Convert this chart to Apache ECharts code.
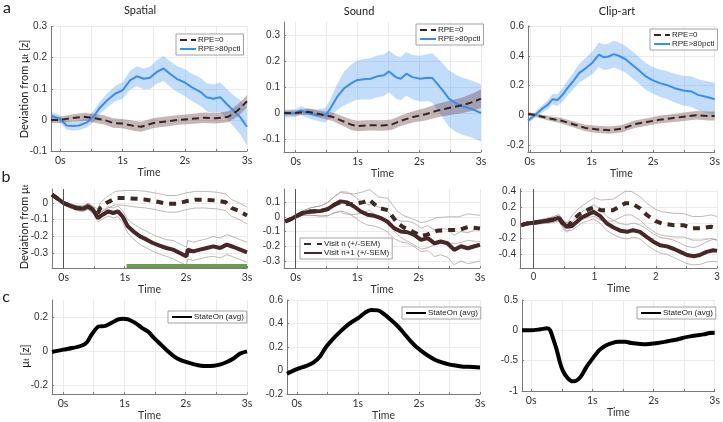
<!DOCTYPE html>
<html><head><meta charset="utf-8">
<script src="https://cdn.jsdelivr.net/npm/echarts@6/dist/echarts.min.js"></script>
<style>html,body{margin:0;padding:0;background:#fff}#c{width:723px;height:422px}</style>
</head><body><div id="c"></div>
<script>
// ---------------- DATA ----------------
// Panel a1 (Spatial)
const a1BlueT = [-0.15,0,0.1,0.2,0.3,0.43,0.53,0.64,0.75,0.88,1.0,1.12,1.23,1.34,1.44,1.55,1.66,1.76,1.87,2.0,2.11,2.25,2.35,2.46,2.57,2.67,2.78,2.89,3.0];
const a1BlueY = [0.014,0.003,-0.018,-0.02,-0.018,-0.008,0.01,0.04,0.062,0.084,0.095,0.127,0.14,0.132,0.135,0.154,0.165,0.148,0.132,0.12,0.105,0.09,0.073,0.068,0.073,0.052,0.03,0.009,-0.022];
const a1BlueSem = [0.012,0.012,0.013,0.014,0.015,0.016,0.018,0.02,0.022,0.025,0.027,0.03,0.032,0.034,0.036,0.038,0.04,0.041,0.042,0.043,0.044,0.045,0.045,0.046,0.047,0.048,0.05,0.055,0.06];
const a1DashT = [-0.15,0,0.2,0.4,0.55,0.7,0.85,1.0,1.2,1.3,1.5,1.7,1.9,2.1,2.3,2.5,2.7,2.85,3.0];
const a1DashY = [0.0,0.0,0.006,0.01,0.005,0.0,-0.01,-0.012,-0.02,-0.022,-0.01,-0.005,0.0,0.003,0.007,0.005,0.01,0.03,0.06];
const a1DashSem = [0.01,0.01,0.012,0.013,0.014,0.015,0.015,0.015,0.016,0.016,0.016,0.016,0.016,0.016,0.017,0.017,0.018,0.019,0.02];
// Panel a2 (Sound)
const a2BlueT = [-0.19,0,0.08,0.18,0.35,0.48,0.56,0.67,0.78,0.89,0.99,1.1,1.21,1.32,1.43,1.51,1.62,1.7,1.79,1.89,2.02,2.13,2.21,2.29,2.4,2.48,2.59,2.7,2.83,2.94,3.0];
const a2BlueY = [-0.003,0,0.01,0,-0.009,-0.009,0.017,0.062,0.094,0.113,0.126,0.13,0.132,0.141,0.145,0.16,0.138,0.132,0.151,0.138,0.132,0.136,0.135,0.113,0.081,0.055,0.038,0.026,0.017,0.006,0.0];
const a2BlueSem = [0.015,0.015,0.016,0.018,0.022,0.028,0.035,0.05,0.065,0.072,0.075,0.078,0.08,0.08,0.08,0.08,0.082,0.083,0.084,0.085,0.088,0.09,0.095,0.1,0.105,0.108,0.11,0.11,0.11,0.11,0.11];
const a2DashT = [-0.19,0,0.2,0.4,0.6,0.75,0.9,1.0,1.2,1.4,1.55,1.7,1.9,2.1,2.3,2.5,2.7,2.9,3.0];
const a2DashY = [0,0,0.005,-0.005,-0.015,-0.03,-0.045,-0.05,-0.047,-0.048,-0.045,-0.03,-0.015,-0.005,0.01,0.02,0.03,0.045,0.055];
const a2DashSem = [0.01,0.01,0.012,0.014,0.016,0.018,0.02,0.02,0.02,0.02,0.02,0.02,0.022,0.024,0.026,0.028,0.03,0.034,0.036];
// Panel a3 (Clip-art)
const a3BlueT = [-0.03,0.05,0.13,0.21,0.29,0.37,0.45,0.53,0.61,0.7,0.8,0.91,1.02,1.12,1.2,1.28,1.36,1.44,1.55,1.66,1.76,1.87,1.98,2.11,2.22,2.35,2.49,2.62,2.73,2.89,3.0];
const a3BlueY = [-0.036,-0.01,0.018,0.047,0.07,0.108,0.103,0.137,0.182,0.227,0.283,0.317,0.355,0.407,0.39,0.395,0.411,0.4,0.378,0.34,0.306,0.265,0.238,0.216,0.204,0.182,0.166,0.16,0.137,0.121,0.108];
const a3BlueSem = [0.015,0.018,0.022,0.026,0.03,0.035,0.04,0.045,0.05,0.056,0.062,0.07,0.076,0.082,0.085,0.088,0.09,0.09,0.09,0.09,0.09,0.09,0.09,0.092,0.094,0.097,0.1,0.102,0.105,0.108,0.11];
const a3DashT = [-0.03,0.1,0.3,0.5,0.7,0.9,1.1,1.3,1.5,1.7,1.9,2.1,2.3,2.5,2.7,2.9,3.0];
const a3DashY = [0.01,0,-0.02,-0.035,-0.06,-0.085,-0.095,-0.1,-0.09,-0.06,-0.045,-0.03,-0.02,-0.01,0,-0.005,-0.005];
const a3DashSem = [0.01,0.012,0.015,0.018,0.02,0.022,0.024,0.025,0.025,0.025,0.025,0.026,0.027,0.028,0.029,0.03,0.03];
// Panel b1 (Spatial)
const b1SolidT = [-0.19,-0.09,0,0.1,0.21,0.32,0.4,0.48,0.56,0.64,0.73,0.81,0.89,0.97,1.05,1.14,1.25,1.36,1.46,1.57,1.68,1.79,1.9,2.01,2.03,2.12,2.23,2.34,2.45,2.56,2.67,2.78,2.89,3.0];
const b1SolidY = [0.05,0.024,0,-0.016,-0.03,-0.034,-0.02,-0.04,-0.09,-0.07,-0.05,-0.06,-0.05,-0.084,-0.14,-0.17,-0.2,-0.22,-0.24,-0.256,-0.27,-0.28,-0.3,-0.32,-0.28,-0.29,-0.28,-0.27,-0.26,-0.27,-0.25,-0.264,-0.28,-0.296];
const b1SolidSem = [0.01,0.01,0.01,0.012,0.014,0.016,0.018,0.02,0.022,0.025,0.028,0.03,0.032,0.035,0.04,0.045,0.05,0.05,0.05,0.05,0.05,0.055,0.055,0.055,0.055,0.055,0.055,0.055,0.06,0.06,0.06,0.06,0.06,0.06];
const b1DashT = [-0.19,-0.09,0,0.1,0.21,0.32,0.4,0.48,0.56,0.6,0.7,0.85,1.0,1.2,1.35,1.5,1.7,1.85,2.0,2.15,2.3,2.5,2.65,2.75,2.85,3.0];
const b1DashY = [0.05,0.024,0,-0.016,-0.03,-0.034,-0.02,-0.04,-0.06,-0.03,0,0.03,0.03,0.025,0.02,0.01,-0.005,-0.005,0.01,0.02,0.02,0.015,0.005,-0.03,-0.045,-0.075];
const b1DashSem = [0.01,0.01,0.01,0.012,0.014,0.016,0.018,0.02,0.025,0.03,0.035,0.04,0.045,0.05,0.05,0.05,0.05,0.05,0.05,0.05,0.05,0.05,0.05,0.05,0.05,0.05];
const b1SigT = [1.03, 3.0];
const b1SigY = [-0.378, -0.378];
// Panel b2 (Sound)
const b2SolidT = [-0.17,-0.08,0,0.11,0.24,0.41,0.52,0.63,0.73,0.84,0.95,1.06,1.17,1.28,1.39,1.49,1.6,1.71,1.82,1.93,2.04,2.15,2.26,2.36,2.47,2.58,2.69,2.8,2.91,3.0];
const b2SolidY = [-0.032,-0.016,0.002,0.025,0.036,0.04,0.052,0.082,0.105,0.098,0.07,0.036,0.014,0.007,-0.009,-0.032,-0.077,-0.1,-0.105,-0.123,-0.157,-0.145,-0.18,-0.168,-0.18,-0.225,-0.2,-0.214,-0.2,-0.19];
const b2SolidSem = [0.01,0.01,0.01,0.015,0.025,0.035,0.045,0.055,0.065,0.07,0.07,0.07,0.07,0.07,0.07,0.07,0.07,0.07,0.075,0.08,0.08,0.085,0.09,0.09,0.095,0.1,0.1,0.105,0.11,0.11];
const b2DashT = [-0.17,-0.08,0,0.11,0.24,0.41,0.52,0.63,0.73,0.8,0.95,1.1,1.2,1.35,1.5,1.65,1.75,1.9,2.05,2.15,2.3,2.5,2.65,2.8,3.0];
const b2DashY = [-0.032,-0.016,0.002,0.025,0.036,0.04,0.052,0.082,0.1,0.09,0.085,0.1,0.115,0.06,0.045,-0.04,-0.07,-0.1,-0.13,-0.12,-0.095,-0.09,-0.09,-0.07,-0.08];
const b2DashSem = [0.01,0.01,0.01,0.015,0.025,0.035,0.045,0.055,0.065,0.07,0.07,0.07,0.07,0.075,0.08,0.08,0.08,0.085,0.09,0.09,0.09,0.09,0.09,0.09,0.09];
// Panel b3 (Clip-art)
const b3SolidT = [-0.2,-0.11,0,0.11,0.22,0.33,0.41,0.46,0.54,0.63,0.71,0.79,0.87,0.98,1.09,1.2,1.31,1.42,1.53,1.63,1.74,1.85,1.96,2.07,2.18,2.29,2.4,2.51,2.62,2.72,2.83,2.94,3.0];
const b3SolidY = [-0.03,-0.01,0,0.013,0.026,0.043,0.064,0.013,-0.05,-0.04,0.013,0.068,0.098,0.14,0.085,-0.009,-0.06,-0.1,-0.115,-0.094,-0.115,-0.18,-0.24,-0.285,-0.3,-0.33,-0.37,-0.41,-0.425,-0.41,-0.37,-0.35,-0.357];
const b3SolidSem = [0.02,0.02,0.02,0.025,0.03,0.035,0.04,0.045,0.05,0.055,0.06,0.07,0.08,0.09,0.09,0.09,0.09,0.09,0.09,0.09,0.09,0.1,0.1,0.1,0.1,0.11,0.11,0.11,0.11,0.12,0.13,0.14,0.14];
const b3DashT = [-0.2,-0.11,0,0.11,0.22,0.33,0.42,0.5,0.55,0.65,0.75,0.9,1.0,1.1,1.3,1.5,1.6,1.75,1.85,2.0,2.1,2.3,2.45,2.6,2.75,2.9,3.0];
const b3DashY = [-0.03,-0.01,0,0.013,0.026,0.043,0.065,-0.04,-0.06,0.04,0.11,0.17,0.2,0.16,0.16,0.25,0.25,0.18,0.1,0.02,-0.01,-0.03,-0.03,-0.07,-0.07,-0.05,-0.07];
const b3DashSem = [0.02,0.02,0.02,0.025,0.03,0.035,0.04,0.05,0.06,0.07,0.08,0.1,0.12,0.13,0.14,0.15,0.15,0.15,0.15,0.15,0.15,0.15,0.15,0.15,0.15,0.15,0.15];
// Panel c
const c1T = [-0.18,0,0.15,0.31,0.39,0.47,0.58,0.69,0.8,0.9,0.98,1.06,1.17,1.28,1.39,1.49,1.6,1.71,1.82,1.92,2.03,2.14,2.25,2.35,2.46,2.57,2.68,2.78,2.89,3.0];
const c1Y = [-0.004,0.01,0.019,0.034,0.053,0.1,0.145,0.149,0.168,0.187,0.19,0.187,0.168,0.139,0.114,0.076,0.038,0,-0.032,-0.051,-0.065,-0.076,-0.084,-0.086,-0.084,-0.076,-0.061,-0.042,-0.013,0.0];
const c2T = [-0.16,0,0.16,0.27,0.38,0.48,0.59,0.69,0.8,0.9,1.01,1.12,1.22,1.33,1.43,1.54,1.65,1.75,1.86,1.96,2.07,2.17,2.28,2.39,2.49,2.6,2.7,2.81,3.0];
const c2Y = [-0.027,0.013,0.04,0.067,0.12,0.2,0.267,0.32,0.373,0.413,0.448,0.493,0.515,0.512,0.48,0.432,0.379,0.32,0.253,0.2,0.155,0.12,0.088,0.067,0.053,0.043,0.035,0.032,0.027];
const c3T = [-0.15,0,0.15,0.26,0.31,0.36,0.42,0.47,0.52,0.6,0.68,0.74,0.82,0.9,1.0,1.11,1.22,1.32,1.43,1.54,1.64,1.75,1.86,1.96,2.07,2.18,2.28,2.39,2.5,2.6,2.71,2.82,2.92,3.0];
const c3Y = [0,0,0.017,0.033,0,-0.14,-0.33,-0.53,-0.67,-0.79,-0.84,-0.83,-0.75,-0.61,-0.47,-0.33,-0.25,-0.21,-0.19,-0.19,-0.21,-0.22,-0.23,-0.22,-0.21,-0.19,-0.17,-0.15,-0.12,-0.1,-0.083,-0.067,-0.044,-0.04];

// tick labels
const xTickVals = [0,0.5,1,1.5,2,2.5,3];
const xLabelVals = [0,1,2,3];
const yTicksA = [[-0.1,0,0.1,0.2,0.3],[-0.1,0,0.1,0.2,0.3],[-0.2,0,0.2,0.4,0.6]];
const yTicksB = [[-0.3,-0.2,-0.1,0],[-0.3,-0.2,-0.1,0,0.1],[-0.4,-0.2,0,0.2,0.4]];
const yTicksC = [[-0.2,0,0.2],[-0.2,0,0.2,0.4,0.6],[-1,-0.5,0,0.5]];
const titles = ['Spatial','Sound','Clip-art'];
const NAME_RPE0 = 'RPE=0', NAME_RPE80 = 'RPE>80pctl';
const NAME_VN = 'Visit n (+/-SEM)', NAME_VN1 = 'Visit n+1 (+/-SEM)';
const NAME_SO = 'StateOn (avg)';

// ---------------- LAYOUT / STYLE ----------------
const FNUM = '"Liberation Sans Narrow","Arial Narrow","Liberation Sans",sans-serif';
const FTXT = 'Lato,"Open Sans",sans-serif';
const AX = '#7a7a7a', GRIDC = '#ebebeb', LAB = '#303030';
const BLUE = '#3a8ded', BLUEBAND = 'rgba(70,150,245,0.33)';
const BROWN = '#3b2224', BROWNBAND = 'rgba(110,75,70,0.40)';
const THICK = '#4a2626', ENV = '#a89898';

const panels = [
  {L:51,T:26.5,R:247,B:151,xmin:-0.15,xmax:3,ymin:-0.1,ymax:0.3,yt:yTicksA[0],sfx:true,time:true,ng:13},
  {L:284,T:22,R:481,B:152,xmin:-0.19,xmax:3,ymin:-0.15,ymax:0.35,yt:yTicksA[1],sfx:true,time:true,ng:12},
  {L:528,T:26,R:717,B:152,xmin:-0.03,xmax:3,ymin:-0.247,ymax:0.6,yt:yTicksA[2],sfx:true,time:true,ng:12},
  {L:52,T:189,R:247,B:268,xmin:-0.19,xmax:3,ymin:-0.39,ymax:0.084,yt:yTicksB[0],sfx:true,time:true,ng:11},
  {L:284,T:189,R:480,B:268,xmin:-0.19,xmax:3,ymin:-0.348,ymax:0.189,yt:yTicksB[1],sfx:true,time:true,ng:11},
  {L:520,T:189,R:717,B:268,xmin:-0.22,xmax:3,ymin:-0.575,ymax:0.43,yt:yTicksB[2],sfx:false,time:true,ng:12},
  {L:52,T:300,R:247,B:396,xmin:-0.18,xmax:3,ymin:-0.25,ymax:0.3,yt:yTicksC[0],sfx:true,time:true,ng:9},
  {L:287,T:300,R:480,B:397,xmin:-0.16,xmax:3,ymin:-0.2,ymax:0.6,yt:yTicksC[1],sfx:true,time:true,ng:8},
  {L:522,T:300,R:715,B:391,xmin:-0.15,xmax:3,ymin:-1,ymax:0.5,yt:yTicksC[2],sfx:true,time:true,ng:9}
];

const grid = [], xAxis = [], yAxis = [], series = [];
const fmtNum = v => String(+(+v).toFixed(2));
panels.forEach((p, i) => {
  grid.push({left:p.L, top:p.T, width:p.R-p.L, height:p.B-p.T});
  xAxis.push({
    gridIndex:i, type:'value', min:p.xmin, max:p.xmax,
    axisLine:{show:true, onZero:false, lineStyle:{color:AX, width:1}},
    axisTick:{show:true, inside:true, length:2, customValues:xTickVals, lineStyle:{color:AX}},
    axisLabel:{customValues:xLabelVals, margin:4,
      formatter: v => p.sfx ? (fmtNum(v)+'s') : fmtNum(v),
      fontFamily: p.sfx ? FTXT : FNUM, fontSize: p.sfx ? 10.5 : 10, color: LAB},
    splitLine:{show:true, lineStyle:{color:GRIDC, width:1}},
    name: p.time ? 'Time' : '', nameLocation:'middle', nameGap:p.ng,
    nameTextStyle:{fontFamily:FTXT, fontSize:10.5, color:LAB}
  });
  yAxis.push({
    gridIndex:i, type:'value', min:p.ymin, max:p.ymax,
    axisLine:{show:true, onZero:false, lineStyle:{color:AX, width:1}},
    axisTick:{show:true, inside:true, length:2, customValues:p.yt, lineStyle:{color:AX}},
    axisLabel:{customValues:p.yt, margin:4, formatter: fmtNum, fontFamily:FNUM, fontSize:10, color:LAB},
    splitLine:{show:true, lineStyle:{color:GRIDC, width:1}}
  });
});

function zip(T, Y){ const n=Math.min(T.length,Y.length); const o=[]; for(let k=0;k<n;k++) o.push([T[k],Y[k]]); return o; }
function shifted(T, Y, S, sign){ const n=Math.min(T.length,Y.length,S.length); const o=[]; for(let k=0;k<n;k++) o.push([T[k],Y[k]+sign*S[k]]); return o; }
function band(gi, T, Y, S, color){
  const up = shifted(T,Y,S,1), lo = shifted(T,Y,S,-1);
  return {type:'custom', xAxisIndex:gi, yAxisIndex:gi, silent:true, clip:true, z:1,
    data:[[T[0],Y[0]]],
    renderItem: function(params, api){
      const pts = [];
      up.forEach(d => pts.push(api.coord(d)));
      for (let k=lo.length-1;k>=0;k--) pts.push(api.coord(lo[k]));
      return {type:'polygon', shape:{points:pts}, style:{fill:color}};
    }};
}
function line(gi, data, name, ls, extra){
  return Object.assign({type:'line', xAxisIndex:gi, yAxisIndex:gi, name:name, data:data,
    symbol:'none', showSymbol:false, clip:true, silent:true, z:3, lineStyle:ls, itemStyle:{color:ls.color}}, extra||{});
}

// panel a
const aSets = [
  [a1BlueT,a1BlueY,a1BlueSem,a1DashT,a1DashY,a1DashSem],
  [a2BlueT,a2BlueY,a2BlueSem,a2DashT,a2DashY,a2DashSem],
  [a3BlueT,a3BlueY,a3BlueSem,a3DashT,a3DashY,a3DashSem]
];
aSets.forEach((s, i) => {
  series.push(band(i, s[0], s[1], s[2], BLUEBAND));
  series.push(band(i, s[3], s[4], s[5], BROWNBAND));
  series.push(line(i, zip(s[0], s[1]), NAME_RPE80, {color:BLUE, width:2}));
  series.push(line(i, zip(s[3], s[4]), NAME_RPE0, {color:BROWN, width:2, type:[7,4]}));
});

// panel b
const bSets = [
  [b1SolidT,b1SolidY,b1SolidSem,b1DashT,b1DashY,b1DashSem],
  [b2SolidT,b2SolidY,b2SolidSem,b2DashT,b2DashY,b2DashSem],
  [b3SolidT,b3SolidY,b3SolidSem,b3DashT,b3DashY,b3DashSem]
];
bSets.forEach((s, j) => {
  const gi = 3 + j;
  [[s[0],s[1],s[2]],[s[3],s[4],s[5]]].forEach(q => {
    series.push(line(gi, shifted(q[0],q[1],q[2],1), undefined, {color:ENV, width:0.7}, {z:2}));
    series.push(line(gi, shifted(q[0],q[1],q[2],-1), undefined, {color:ENV, width:0.7}, {z:2}));
  });
  series.push(line(gi, zip(s[0], s[1]), NAME_VN1, {color:THICK, width:4},
    {markLine:{silent:true, symbol:'none', label:{show:false}, lineStyle:{color:'#555', width:1, type:'solid'}, data:[{xAxis:0}], animation:false}}));
  series.push(line(gi, zip(s[3], s[4]), NAME_VN, {color:'#3e2a22', width:4, type:[7,6]}));
});
series.push(line(3, zip(b1SigT, b1SigY), undefined, {color:'#6d9a52', width:4}));

// panel c
[[c1T,c1Y],[c2T,c2Y],[c3T,c3Y]].forEach((s, j) => {
  series.push(line(6 + j, zip(s[0], s[1]), NAME_SO, {color:'#000', width:4}, {smooth:0.3}));
});

function legend(names, left, top, iw, fs){
  return {data:names, left:left, top:top, orient:'vertical', selectedMode:false,
    padding:[2,3,2,3], itemGap:1, itemWidth:iw||16, itemHeight:9,
    itemStyle:{color:'rgba(0,0,0,0)', borderColor:'rgba(0,0,0,0)', borderWidth:0},
    backgroundColor:'#fff', borderColor:'#8a8a8a', borderWidth:0.8,
    textStyle:{fontFamily:FNUM, fontSize:fs||8, color:'#222', padding:[0,0,0,-3]}};
}
const legends = [
  legend([NAME_RPE0, NAME_RPE80], 176, 34),
  legend([NAME_RPE0, NAME_RPE80], 416, 24),
  legend([NAME_RPE0, NAME_RPE80], 650, 29),
  legend([NAME_VN, NAME_VN1], 300, 238, 18),
  legend([NAME_SO], 168, 311, 20),
  legend([NAME_SO], 402, 307, 20),
  legend([NAME_SO], 637, 307, 20)
];

function txt(x, y, text, size, rot, rich){
  return {type:'text', x:x, y:y, rotation:rot||0, silent:true,
    style:{text:text, fill:'#222', font: size+'px '+FTXT, align:'center', verticalAlign:'middle', rich:rich}};
}
const subRich = {s:{fontSize:7.5, fontFamily:'Lato', fill:'#222', verticalAlign:'bottom', padding:[4,0,0,0]}};
const graphic = [
  txt(7, 8, 'a', 16), txt(6, 177, 'b', 16), txt(6, 297, 'c', 16),
  txt(140, 10.5, titles[0], 11), txt(359, 11, titles[1], 11), txt(617, 11, titles[2], 11),
  txt(24, 89, 'Deviation from μ{s|t} [z]', 11, Math.PI/2, subRich),
  txt(24, 227, 'Deviation from μ{s|t}', 11, Math.PI/2, subRich),
  txt(25, 356, 'μ{s|t} [z]', 11, Math.PI/2, subRich)
];

const chart = echarts.init(document.getElementById('c'), null, {renderer:'canvas'});
chart.setOption({animation:false, backgroundColor:'#fff', grid, xAxis, yAxis, series, legend:legends, graphic});
</script></body></html>
